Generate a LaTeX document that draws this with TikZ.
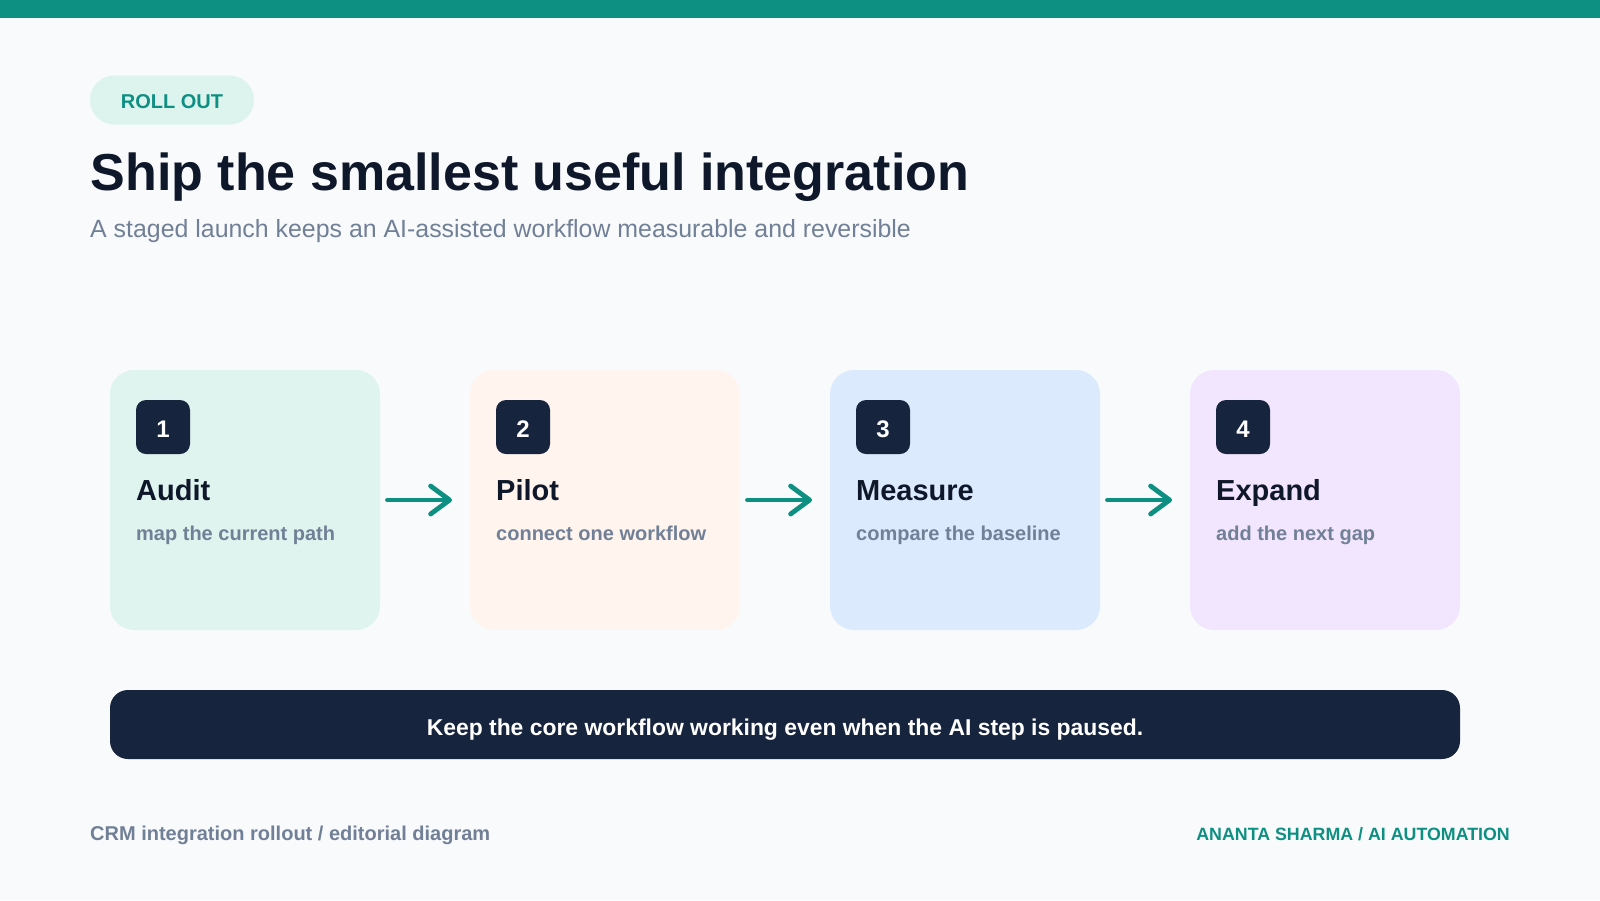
\documentclass[tikz,border=0pt]{standalone}
\usepackage{fontspec}
\setmainfont{Liberation Sans}
\usetikzlibrary{arrows.meta}
\definecolor{bg}{HTML}{F8FAFC}
\definecolor{accent}{HTML}{0D8F82}
\definecolor{navy}{HTML}{16243D}
\definecolor{ink}{HTML}{0F172A}
\definecolor{muted}{HTML}{718096}
\definecolor{pillbg}{HTML}{DDF4EE}
\definecolor{cardA}{HTML}{DFF4EE}
\definecolor{cardB}{HTML}{FFF4EE}
\definecolor{cardC}{HTML}{DCEAFE}
\definecolor{cardD}{HTML}{F2E6FE}
\newcommand\myfs[1]{\fontsize{#1}{#1}\selectfont}
\begin{document}
\begin{tikzpicture}[x=1pt,y=-1pt,
  card/.style={rounded corners=24pt, minimum width=270pt, minimum height=260pt, inner sep=0pt, outer sep=0pt, anchor=north west},
  badge/.style={fill=navy, rounded corners=10pt, minimum size=54pt, inner sep=0pt, text height=21pt, text depth=0pt, text=white, font=\myfs{24}\bfseries},
  steptitle/.style={anchor=base west, inner sep=0pt, text=ink, font=\myfs{29}\bfseries},
  stepsub/.style={anchor=base west, inner sep=0pt, text=muted, font=\myfs{20}\bfseries},
  flow/.style={draw=accent, line width=4.8pt, line cap=round, -{Straight Barb[length=19pt, width=28pt, round]}},
  plain/.style={inner sep=0pt}
]
\useasboundingbox (0,0) rectangle (1600,900);
\fill[bg] (0,0) rectangle (1600,900);
\fill[accent] (0,0) rectangle (1600,18);

% header
\node[fill=pillbg, rounded corners=24.5pt, minimum width=164pt, minimum height=49pt, inner sep=0pt] (pill) at (172,100) {};
\node[plain, text=accent, font=\myfs{20}\bfseries] (pilltext) at (172,101.5) {ROLL OUT};
\node[plain, anchor=base west, text=ink, font=\myfs{52}\bfseries] (title) at (90.5,190) {Ship the smallest useful integration};
\node[plain, anchor=base west, text=muted, font=\myfs{24.9}] (subtitle) at (90,237) {A staged launch keeps an AI-assisted workflow measurable and reversible};

% cards
\node[card, fill=cardA] (c1) at (110,370) {};
\node[card, fill=cardB] (c2) at (470,370) {};
\node[card, fill=cardC] (c3) at (830,370) {};
\node[card, fill=cardD] (c4) at (1190,370) {};

\node[badge] (b1) at ([shift={(53,57)}]c1.north west) {1};
\node[badge] (b2) at ([shift={(53,57)}]c2.north west) {2};
\node[badge] (b3) at ([shift={(53,57)}]c3.north west) {3};
\node[badge] (b4) at ([shift={(53,57)}]c4.north west) {4};

\node[steptitle] (t1) at ([shift={(26,130)}]c1.north west) {Audit};
\node[steptitle] (t2) at ([shift={(26,130)}]c2.north west) {Pilot};
\node[steptitle] (t3) at ([shift={(26,130)}]c3.north west) {Measure};
\node[steptitle] (t4) at ([shift={(26,130)}]c4.north west) {Expand};

\node[stepsub] (s1) at ([shift={(26,170)}]c1.north west) {map the current path};
\node[stepsub] (s2) at ([shift={(26,170)}]c2.north west) {connect one workflow};
\node[stepsub] (s3) at ([shift={(26,170)}]c3.north west) {compare the baseline};
\node[stepsub] (s4) at ([shift={(26,170)}]c4.north west) {add the next gap};

\draw[flow] ([xshift=7.5pt]c1.east) -- ([xshift=-18pt]c2.west);
\draw[flow] ([xshift=7.5pt]c2.east) -- ([xshift=-18pt]c3.west);
\draw[flow] ([xshift=7.5pt]c3.east) -- ([xshift=-18pt]c4.west);

% banner
\node[fill=navy, rounded corners=18pt, minimum width=1350pt, minimum height=69pt, inner sep=0pt] (note) at (785,724.5) {};
\node[plain, anchor=base, text=white, font=\myfs{22.9}\bfseries] (notetext) at (785,735) {Keep the core workflow working even when the AI step is paused.};

% footer
\node[plain, anchor=base west, text=muted, font=\myfs{20}\bfseries] (foot) at (90,840) {CRM integration rollout / editorial diagram};
\node[plain, anchor=base east, text=accent, font=\myfs{17.8}\bfseries] (sig) at (1510,840) {ANANTA SHARMA / AI AUTOMATION};
\end{tikzpicture}
\end{document}
